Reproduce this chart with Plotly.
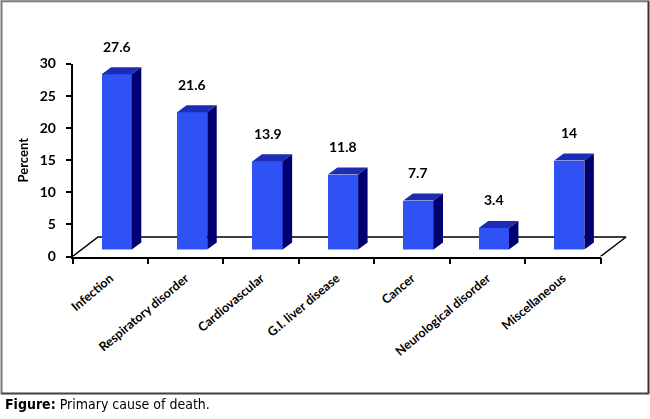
import plotly.graph_objects as go

# ---- data ----
categories = ["Infection", "Respiratory disorder", "Cardiovascular", "G.I. liver disease",
              "Cancer", "Neurological disorder", "Miscellaneous"]
values = [27.6, 21.6, 13.9, 11.8, 7.7, 3.4, 14]
value_labels = ["27.6", "21.6", "13.9", "11.8", "7.7", "3.4", "14"]
y_ticks = [0, 5, 10, 15, 20, 25, 30]

W, H = 650, 419
def px_x(p):
    return p / W
def px_y(p):
    return 1 - p / H

idx = list(range(len(categories)))

# geometry (in axis units)
bar_w = 0.4
bdx, bdy = 0.126, 1.10      # bar depth offsets (bar plane axes)
fdx, fdy = 0.338, 3.03      # floor depth offsets (main axes)

FRONT = "#2f52f5"
TOP = "#1c2cb4"
SIDE = "#000070"

fig = go.Figure()

# invisible trace so the category axis carries the category ticks
fig.add_trace(go.Scatter(x=categories, y=values, mode="markers", opacity=0,
                         xaxis="x", yaxis="y", hoverinfo="skip", showlegend=False))

# floor outline (left diagonal, back edge, right diagonal)
lo, hi = -0.5, len(categories) - 0.5
fig.add_trace(go.Scatter(
    x=[lo, lo + fdx, hi + fdx, hi], y=[0, fdy, fdy, 0],
    mode="lines", line=dict(color="black", width=1.5),
    xaxis="x2", yaxis="y", hoverinfo="skip", showlegend=False))

# front faces
fig.add_trace(go.Bar(
    x=idx, y=values, width=bar_w, marker=dict(color=FRONT, line=dict(width=0)),
    xaxis="x3", yaxis="y3", showlegend=False, hoverinfo="skip"))

# top faces and side faces
tx, ty, sx, sy = [], [], [], []
for i, v in zip(idx, values):
    l, r = i - bar_w / 2, i + bar_w / 2
    tx += [l, l + bdx, r + bdx, r, l, None]
    ty += [v, v + bdy, v + bdy, v, v, None]
    sx += [r, r, r + bdx, r + bdx, r, None]
    sy += [0, v, v + bdy, bdy, 0, None]
fig.add_trace(go.Scatter(x=tx, y=ty, fill="toself", fillcolor=TOP, mode="lines",
                         line=dict(width=0, color=TOP), xaxis="x3", yaxis="y3",
                         hoverinfo="skip", showlegend=False))
fig.add_trace(go.Scatter(x=sx, y=sy, fill="toself", fillcolor=SIDE, mode="lines",
                         line=dict(width=0, color=SIDE), xaxis="x3", yaxis="y3",
                         hoverinfo="skip", showlegend=False))

# value labels
for i, v, t in zip(idx, values, value_labels):
    fig.add_annotation(x=i, y=v + bdy, xref="x3", yref="y3", text=t, showarrow=False,
                       xanchor="center", yanchor="middle", yshift=21,
                       font=dict(family="Lato", size=14, color="black", weight="bold"))

x0p, x1p = 72.5, 600.5
y0p, y1p = 256.5, 63.5
catw = (x1p - x0p) / len(categories)
fig.update_layout(
    width=W, height=H, margin=dict(l=0, r=0, t=0, b=0),
    paper_bgcolor="white", plot_bgcolor="rgba(0,0,0,0)", template="none",
    showlegend=False, bargap=0,
    xaxis=dict(domain=[px_x(x0p), px_x(x1p)], type="category",
               categoryorder="array", categoryarray=categories, range=[lo, hi], anchor="y",
               tickangle=-40, tickson="boundaries", ticks="outside", ticklen=6,
               tickwidth=1.5, tickcolor="black", ticklabelstandoff=8,
               showline=True, linecolor="black", linewidth=1.5,
               showgrid=False, zeroline=False, automargin=False,
               tickfont=dict(family="Lato", size=12.5, color="black", weight="bold")),
    yaxis=dict(domain=[px_y(y0p), px_y(y1p)], range=[0, 30], anchor="x",
               tickmode="array", tickvals=y_ticks, ticks="outside", ticklen=5,
               tickwidth=1.5, tickcolor="black", showline=True, linecolor="black",
               linewidth=1.5, showgrid=False, zeroline=False, automargin=False,
               ticklabelstandoff=7,
               tickfont=dict(family="Lato", size=14, color="black", weight="bold")),
    xaxis2=dict(domain=[px_x(x0p), px_x(x0p + 7.5 * catw)], range=[lo, lo + 7.5],
                anchor="y", visible=False),
    xaxis3=dict(domain=[px_x(x0p + 6.5), px_x(x1p + 6.5)], range=[lo, hi],
                anchor="y3", visible=False),
    yaxis3=dict(domain=[px_y(249.5), px_y(249.5 - 30 * 6.35)], range=[0, 30],
                anchor="x3", visible=False),
)

# y-axis title
fig.add_annotation(x=px_x(22.5), y=px_y(160), xref="paper", yref="paper", text="Percent",
                   textangle=-90, showarrow=False, xanchor="center", yanchor="middle",
                   font=dict(family="Lato", size=13, color="black", weight="bold"))

# caption
fig.add_annotation(x=px_x(3), y=px_y(404), xref="paper", yref="paper", xanchor="left",
                   yanchor="middle", showarrow=False,
                   text="<b>Figure:</b> Primary cause of death.",
                   font=dict(family="Liberation Sans Narrow, DejaVu Sans Condensed, sans-serif",
                             size=14, color="black"))

# frame
fig.add_shape(type="rect", xref="paper", yref="paper", x0=px_x(1.5), x1=px_x(648.5),
              y0=px_y(393.5), y1=px_y(1.2), line=dict(color="#7a7a7a", width=2))
fig.add_shape(type="line", xref="paper", yref="paper", x0=px_x(648.5), x1=px_x(648.5),
              y0=px_y(393.5), y1=px_y(1.2), line=dict(color="#333333", width=1.5))
fig.add_shape(type="line", xref="paper", yref="paper", x0=px_x(1.5), x1=px_x(648.5),
              y0=px_y(393.5), y1=px_y(393.5), line=dict(color="#444444", width=1.5))

fig.write_html("out.html", config={"displayModeBar": False},
               post_script="document.body.style.margin='0';document.body.style.overflow='hidden';")
